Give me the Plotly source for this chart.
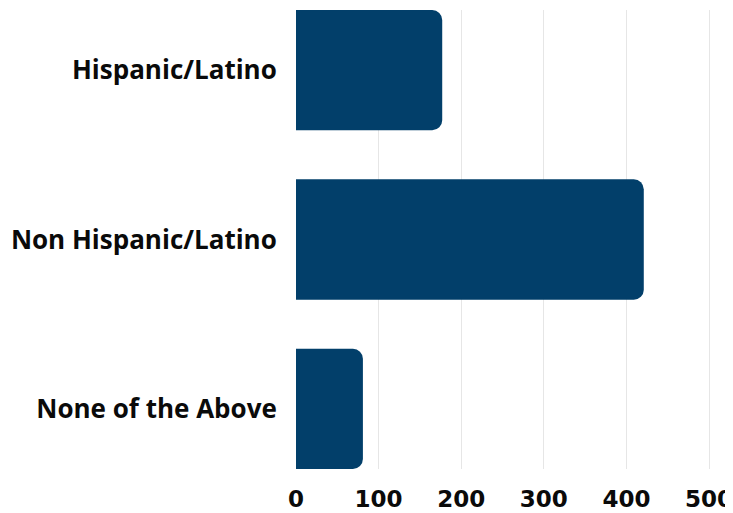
import plotly.graph_objects as go

categories = ["Hispanic/Latino", "Non Hispanic/Latino", "None of the Above"]
values = [177, 421, 81]
tick_vals = [0, 100, 200, 300, 400, 500]

fig = go.Figure(go.Bar(
    x=values, y=categories, orientation="h",
    marker=dict(color="#023f6a", line=dict(width=0)),
    width=0.71,
))

# page body has an 8px default margin; the figure is offset by it
fig.update_layout(
    width=733, height=505,
    margin=dict(l=288, r=8, t=2, b=44, autoexpand=False),
    paper_bgcolor="white", plot_bgcolor="white",
    barcornerradius=10,
    showlegend=False,
    font=dict(family="Open Sans", color="#0a0a0a"),
)
fig.update_xaxes(
    range=[0, 529], tickvals=tick_vals, showgrid=True, gridcolor="#e6e6e6", gridwidth=1,
    zeroline=False, showline=False, automargin=False, ticklabeloverflow="allow",
    tickfont=dict(size=23, family="DejaVu Sans", weight="bold", color="#0a0a0a"),
    ticks="outside", ticklen=9, tickcolor="rgba(0,0,0,0)",
)
fig.update_yaxes(
    range=[2.355, -0.355], showgrid=False, zeroline=False, showline=False, automargin=False,
    tickfont=dict(size=26, family="Open Sans", weight="bold", color="#0a0a0a"),
    ticks="outside", ticklen=13, tickcolor="rgba(0,0,0,0)",
)

fig.write_html("out.html")
